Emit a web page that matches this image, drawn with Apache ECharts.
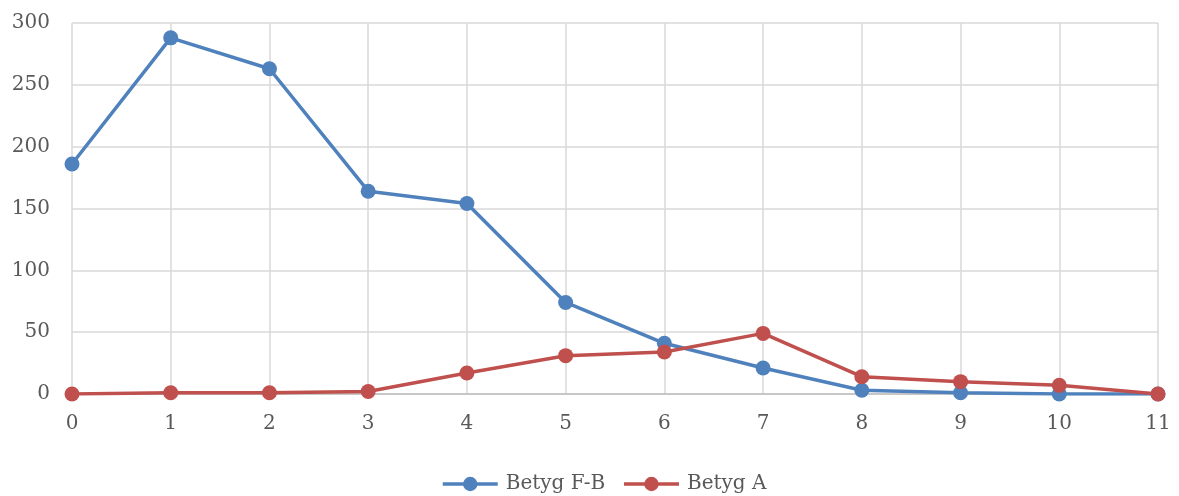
<!DOCTYPE html>
<html><head><meta charset="utf-8">
<script src="https://cdn.jsdelivr.net/npm/echarts@6/dist/echarts.min.js"></script>
<style>html,body{margin:0;padding:0;background:#fff}#c{width:1179px;height:496px}</style>
</head><body><div id="c"></div>
<script>
const categories = ['0','1','2','3','4','5','6','7','8','9','10','11'];
const betygFB = [186, 288, 263, 164, 154, 74, 41, 21, 3, 1, 0, 0];
const betygA = [0, 1, 1, 2, 17, 31, 34, 49, 14, 10, 7, 0];
const yTicks = {min: 0, max: 300, interval: 50};

const font = '"DejaVu Serif", "Liberation Serif", serif';
const chart = echarts.init(document.getElementById('c'), null, {renderer: 'canvas'});
chart.setOption({
  animation: false,
  textStyle: {fontFamily: font},
  grid: {left: 72, right: 21, top: 23, bottom: 102, containLabel: false},
  legend: {
    top: 469, left: 436, itemWidth: 55, itemHeight: 18, itemGap: 17,
    lineStyle: {width: 3.5},
    textStyle: {fontFamily: font, fontSize: 20, color: '#595959', padding: [0, 0, 0, 3]},
    data: ['Betyg F-B', 'Betyg A']
  },
  xAxis: {
    type: 'category', data: categories, boundaryGap: false,
    axisLine: {lineStyle: {color: '#bfbfbf', width: 1.5}},
    axisTick: {show: false},
    axisLabel: {fontFamily: font, fontSize: 20, color: '#595959', margin: 20},
    splitLine: {show: true, lineStyle: {color: '#d9d9d9', width: 1.5}}
  },
  yAxis: {
    type: 'value', min: yTicks.min, max: yTicks.max, interval: yTicks.interval,
    axisLine: {show: false}, axisTick: {show: false},
    axisLabel: {fontFamily: font, fontSize: 20, color: '#595959', margin: 22},
    splitLine: {lineStyle: {color: '#d9d9d9', width: 1.5}}
  },
  series: [
    {name: 'Betyg F-B', type: 'line', data: betygFB, symbol: 'circle', symbolSize: 15,
     color: '#4F81BD', lineStyle: {width: 3.5, color: '#4F81BD'}, itemStyle: {color: '#4F81BD'}},
    {name: 'Betyg A', type: 'line', data: betygA, symbol: 'circle', symbolSize: 15,
     color: '#C0504D', lineStyle: {width: 3.5, color: '#C0504D'}, itemStyle: {color: '#C0504D'}}
  ]
});
</script></body></html>
